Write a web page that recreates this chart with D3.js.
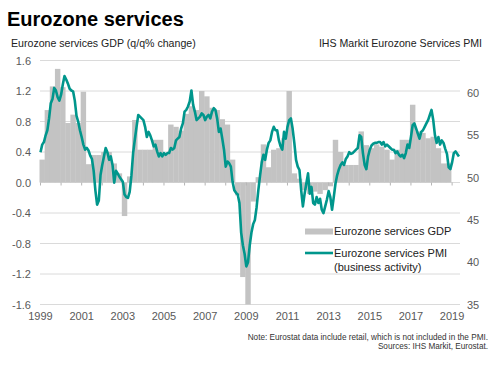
<!DOCTYPE html>
<html>
<head>
<meta charset="utf-8">
<script src="https://cdn.jsdelivr.net/npm/d3@7"></script>
<style>
  body { margin: 0; background: #fff; }
  svg { display: block; font-family: "Liberation Sans", Arial, sans-serif; }
</style>
</head>
<body>
<svg id="chart"></svg>
<script>
const WIDTH = 503
const HEIGHT = 366

// quarterly services GDP, q/q % change, 1999 Q1 .. 2018 Q4
const gdpValues = [
  0.30, 0.95, 1.26, 1.49, 1.25, 0.78, 0.89, 0.78, 1.19, 0.24,
  0.36, 0.36, 0.40, 0.40, 0.25, 0.12, -0.44, 0.08, 0.82, 0.43,
  0.43, 0.43, 0.56, 0.56, 0.38, 0.76, 0.73, 0.68, 0.90, 1.00,
  0.95, 1.20, 1.13, 0.98, 0.95, 0.83, 0.76, 0.30, -0.17, -1.24,
  -1.60, -0.25, 0.07, 0.50, 0.20, 0.43, 0.45, 0.58, 1.20, 0.12,
  0.05, -0.10, -0.15, -0.12, -0.15, -0.10, -0.05, 0.56, 0.40, 0.23,
  0.23, 0.23, 0.67, 0.49, 0.45, 0.50, 0.47, 0.43, 0.30, 0.43,
  0.56, 0.56, 1.02, 0.67, 0.65, 0.58, 0.60, 0.45, 0.25, 0.25
]

// monthly services PMI (business activity), Jan 1999 .. May 2019
const pmiValues = [
  53.0, 53.9, 54.2, 55.0, 55.6, 57.0, 58.8, 59.3, 60.6, 60.3, 59.5, 59.1,
  59.8, 61.0, 62.0, 61.6, 61.1, 60.5, 60.3, 60.2, 59.1, 57.3, 56.6, 55.6,
  54.8, 53.9, 53.3, 53.5, 53.2, 52.6, 52.2, 50.8, 48.5, 46.8, 47.3, 50.3,
  51.5, 52.5, 53.5, 53.0, 52.1, 52.5, 51.5, 49.4, 50.8, 50.5, 50.1, 49.8,
  49.5, 48.0, 47.7, 47.6, 48.3, 50.2, 52.9, 54.5, 56.0, 57.4, 57.2, 57.0,
  56.8, 56.0, 54.8, 55.4, 55.0, 54.4, 53.7, 53.9, 53.1, 52.5, 52.9, 52.5,
  52.9, 52.7, 52.9, 52.9, 53.5, 53.3, 53.5, 54.4, 54.6, 54.8, 55.8, 56.4,
  57.8, 58.0, 58.4, 59.0, 60.3, 58.6, 57.8, 56.8, 57.0, 57.2, 57.6, 57.4,
  56.8, 57.2, 57.4, 57.0, 57.8, 58.2, 58.0, 57.0, 55.4, 55.8, 54.6, 53.3,
  51.3, 51.9, 51.7, 51.3, 49.5, 48.5, 48.2, 48.0, 47.0, 43.5, 42.0, 41.0,
  39.5, 40.0, 42.0, 43.5, 44.5, 45.0, 46.5, 48.5, 50.2, 51.8, 52.7, 52.1,
  53.3, 54.1, 54.4, 55.4, 56.0, 55.6, 55.6, 54.4, 53.7, 53.3, 55.4, 54.6,
  56.0, 56.8, 57.0, 55.8, 54.1, 52.1, 51.3, 50.9, 48.5, 46.6, 48.1, 49.3,
  50.5, 48.1, 48.9, 47.0, 46.8, 47.7, 47.0, 47.5, 46.2, 45.8, 46.6, 47.4,
  48.4, 47.7, 46.2, 47.7, 49.3, 50.3, 51.0, 51.5, 51.8, 51.5, 52.2, 52.5,
  53.0, 52.8, 52.9, 53.1, 53.3, 53.5, 55.0, 54.8, 52.9, 51.5, 51.0, 52.5,
  53.3, 53.8, 54.0, 54.1, 54.1, 54.2, 54.2, 53.9, 54.2, 53.7, 53.9, 53.7,
  53.5, 53.3, 53.3, 52.9, 53.1, 52.7, 52.5, 52.7, 52.3, 52.9, 53.9, 53.5,
  54.8, 56.2, 56.4, 55.8, 55.2, 54.6, 55.4, 55.6, 56.0, 56.4, 56.8, 57.4,
  58.0, 56.8, 55.0, 54.1, 54.8, 53.9, 54.4, 54.1, 53.4, 52.8, 51.2, 51.0,
  51.8, 52.9, 53.1, 52.8, 52.5
]

const leftTicks = [1.6, 1.2, 0.8, 0.4, 0.0, -0.4, -0.8, -1.2, -1.6]
const rightTicks = [60, 55, 50, 45, 40, 35]
const yearLabels = [1999, 2001, 2003, 2005, 2007, 2009, 2011, 2013, 2015, 2017, 2019]
const yearTicks = d3.range(1999, 2020)

const GREY_BAR = "#c3c3c3"
const TEAL = "#00968c"
const GRID = "#dadada"
const LABEL = "#595959"

const svg = d3.select("#chart").attr("width", WIDTH).attr("height", HEIGHT)

const x = d3.scaleLinear().domain([1999, 2019.5]).range([40.5, 462.4])
const yLeft = d3.scaleLinear().domain([-1.6, 1.6]).range([304.5, 60.5])
const yRight = d3.scaleLinear().domain([35, 60]).range([304.5, 93])

// titles
svg.append("text")
  .attr("x", 7)
  .attr("y", 26)
  .attr("font-size", 20)
  .attr("font-weight", "bold")
  .attr("fill", "#000")
  .text("Eurozone services")

svg.append("text")
  .attr("x", 11)
  .attr("y", 47)
  .attr("font-size", 10.6)
  .attr("fill", "#222")
  .text("Eurozone services GDP (q/q% change)")

svg.append("text")
  .attr("x", 482)
  .attr("y", 47)
  .attr("font-size", 10.6)
  .attr("fill", "#222")
  .attr("text-anchor", "end")
  .text("IHS Markit Eurozone Services PMI")

// gridlines
svg.append("g")
  .selectAll("line")
  .data(leftTicks)
  .enter()
  .append("line")
  .attr("x1", 40)
  .attr("x2", 460)
  .attr("y1", (d) => yLeft(d))
  .attr("y2", (d) => yLeft(d))
  .attr("stroke", GRID)
  .attr("stroke-width", 1)

// gdp bars
svg.append("g")
  .selectAll("rect")
  .data(gdpValues)
  .enter()
  .append("rect")
  .attr("x", (d, i) => x(1999 + i / 4) - 1)
  .attr("width", x(1999.25) - x(1999) + 0.3)
  .attr("y", (d) => yLeft(Math.max(0, d)))
  .attr("height", (d) => Math.abs(yLeft(d) - yLeft(0)))
  .attr("fill", GREY_BAR)

// year ticks on zero line
svg.append("g")
  .selectAll("line")
  .data(yearTicks)
  .enter()
  .append("line")
  .attr("x1", (d) => x(d))
  .attr("x2", (d) => x(d))
  .attr("y1", yLeft(0))
  .attr("y2", yLeft(0) + 3)
  .attr("stroke", "#b5b5b5")

// pmi line
const line = d3.line()
  .x((d, i) => x(1999 + i / 12))
  .y((d) => yRight(d))

svg.append("path")
  .datum(pmiValues)
  .attr("d", line)
  .attr("fill", "none")
  .attr("stroke", TEAL)
  .attr("stroke-width", 2.6)
  .attr("stroke-linejoin", "round")

// axes labels
svg.append("g")
  .selectAll("text")
  .data(leftTicks)
  .enter()
  .append("text")
  .attr("x", 31)
  .attr("y", (d) => yLeft(d) + 4)
  .attr("text-anchor", "end")
  .attr("font-size", 11)
  .attr("fill", LABEL)
  .text((d) => d.toFixed(1))

svg.append("g")
  .selectAll("text")
  .data(rightTicks)
  .enter()
  .append("text")
  .attr("x", 467)
  .attr("y", (d) => yRight(d) + 4)
  .attr("font-size", 11)
  .attr("fill", LABEL)
  .text((d) => d)

svg.append("g")
  .selectAll("text")
  .data(yearLabels)
  .enter()
  .append("text")
  .attr("x", (d) => x(d))
  .attr("y", 320)
  .attr("text-anchor", "middle")
  .attr("font-size", 11)
  .attr("fill", LABEL)
  .text((d) => d)

// legend
const legend = svg.append("g")
legend.append("rect")
  .attr("x", 305)
  .attr("y", 228.5)
  .attr("width", 28)
  .attr("height", 6)
  .attr("fill", GREY_BAR)
legend.append("text")
  .attr("x", 334)
  .attr("y", 235)
  .attr("font-size", 11)
  .attr("fill", "#222")
  .text("Eurozone services GDP")
legend.append("line")
  .attr("x1", 305)
  .attr("x2", 333)
  .attr("y1", 253)
  .attr("y2", 253)
  .attr("stroke", TEAL)
  .attr("stroke-width", 2.6)
legend.append("text")
  .attr("x", 334)
  .attr("y", 257)
  .attr("font-size", 11)
  .attr("fill", "#222")
  .text("Eurozone services PMI")
legend.append("text")
  .attr("x", 334)
  .attr("y", 270.5)
  .attr("font-size", 11)
  .attr("fill", "#222")
  .text("(business activity)")

// footnote
svg.append("text")
  .attr("x", 488)
  .attr("y", 340)
  .attr("text-anchor", "end")
  .attr("font-size", 8.2)
  .attr("fill", "#333")
  .text("Note: Eurostat data include retail, which is not included in the PMI.")
svg.append("text")
  .attr("x", 488)
  .attr("y", 348.5)
  .attr("text-anchor", "end")
  .attr("font-size", 8.2)
  .attr("fill", "#333")
  .text("Sources: IHS Markit, Eurostat.")
</script>
</body>
</html>
